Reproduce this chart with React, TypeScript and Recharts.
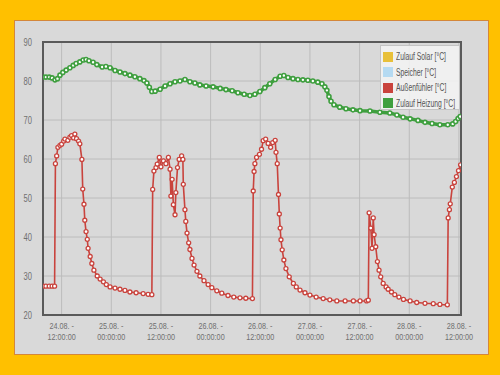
import React from 'react';
import { LineChart, Line, XAxis, YAxis, CartesianGrid, ReferenceArea, Legend } from 'recharts';

// hours since 24.08. 00:00:00
const redTimes = [
  7.5, 8.2, 9.0, 9.7, 10.3,
  10.5, 10.8, 11.1, 11.6, 12.0, 12.5, 12.8, 13.5, 14.0, 14.4, 14.9, 15.2, 15.6, 16.1, 16.4, 16.9,
  17.1, 17.4, 17.6, 17.9, 18.2, 18.4, 18.9, 19.3, 19.8, 20.6, 21.3, 22.1, 22.8, 23.7, 24.9, 26.1, 27.3, 28.5, 30.0, 31.7, 32.9, 33.8,
  34.0, 34.3, 34.8, 35.1, 35.6, 36.0, 36.6, 37.2, 37.8, 38.2, 38.4, 38.7, 39.0, 39.4, 39.6, 40.0, 40.4, 41.0, 41.3, 41.4,
  41.8, 42.0, 42.3, 42.7, 43.0, 43.5, 44.0, 44.7, 45.4, 46.4, 47.4, 48.3, 49.5, 50.7, 52.2, 53.6, 55.1, 56.5, 58.1,
  58.3, 58.5, 58.7, 59.1, 59.8, 60.3, 60.7, 61.3, 61.9, 62.5, 63.0, 63.6, 63.8, 64.1, 64.4, 64.6, 64.8, 65.0, 65.3, 65.7,
  66.2, 67.0, 68.0, 68.7, 69.6, 70.8, 72.0, 73.5, 75.2, 76.8, 78.5, 80.5, 82.5, 84.1, 85.7, 86.1,
  86.3, 86.7, 87.0, 87.3, 87.5, 87.9, 88.3, 88.7, 89.1, 89.7, 90.4, 90.9, 91.7, 92.5, 93.5, 94.6, 96.2, 97.8, 99.8, 101.8, 103.4, 105.2,
  105.4, 105.7, 105.9, 106.4, 106.9, 107.4, 107.9, 108.4,
];
const redValues = [
  27.4, 27.4, 27.4, 27.4, 27.4,
  58.8, 60.8, 63.0, 63.5, 63.8, 64.6, 65.1, 64.8, 65.6, 66.0, 65.4, 66.4, 65.2, 64.6, 63.9, 59.9,
  52.3, 48.4, 44.3, 41.4, 39.4, 37.1, 35.0, 33.2, 31.5, 30.0, 29.2, 28.5, 27.8, 27.2, 26.9, 26.6, 26.3, 25.9, 25.7, 25.5, 25.3, 25.2,
  52.2, 56.9, 57.8, 58.7, 60.4, 58.0, 59.5, 58.8, 60.4, 57.4, 50.5, 54.8, 48.3, 45.7, 51.4, 57.8, 59.9, 60.8, 59.9, 53.5,
  47.0, 44.0, 41.0, 38.5, 36.8, 34.5, 32.8, 31.2, 30.0, 28.8, 27.8, 27.0, 26.2, 25.6, 25.0, 24.6, 24.4, 24.3, 24.2,
  51.8, 56.8, 58.8, 60.4, 61.2, 62.5, 64.7, 65.1, 64.0, 63.0, 64.2, 64.8, 61.7, 58.8, 50.9, 45.9, 42.3, 39.3, 36.7, 34.1,
  31.9, 29.8, 28.1, 27.2, 26.4, 25.7, 25.1, 24.6, 24.2, 23.9, 23.6, 23.6, 23.6, 23.6, 23.6, 23.8,
  46.2, 42.3, 37.1, 44.9, 40.6, 37.5, 33.7, 31.5, 29.8, 28.1, 27.2, 26.6, 25.9, 25.2, 24.6, 24.0, 23.6, 23.2, 23.0, 22.9, 22.7, 22.6,
  44.9, 47.0, 48.5, 52.8, 54.0, 55.5, 57.0, 58.5,
];

const greenTimes = [
  7.5, 8.2, 9.0, 9.7, 10.4, 11.0, 11.6, 12.3, 13.1, 14.0, 14.8, 15.5, 16.4, 17.2, 17.9, 18.6, 19.6, 20.5, 21.8, 22.7,
  23.7, 24.9, 26.1, 27.3, 28.5, 29.7, 30.9, 31.9, 32.6, 33.2, 33.8, 34.6, 35.8, 37.0, 38.2, 39.4, 40.6, 41.8, 43.0, 44.2,
  45.4, 46.9, 48.6, 50.3, 51.7, 53.2, 54.6, 56.1, 57.5, 58.7, 59.9, 61.1, 62.3, 63.6, 64.8, 65.7, 66.7, 67.9, 69.1, 70.3,
  71.5, 72.7, 73.9, 74.9, 75.6, 76.1, 76.6, 77.1, 77.8, 79.2, 80.7, 82.4, 84.1, 86.5, 88.9, 91.3, 93.0, 94.5, 96.2, 98.1,
  99.8, 101.5, 103.4, 105.3, 106.5, 107.2, 107.8, 108.3,
];
const greenValues = [
  81.0, 81.0, 81.0, 80.8, 80.3, 80.6, 81.5, 82.2, 82.8, 83.4, 84.0, 84.5, 84.9, 85.4, 85.5, 85.2, 84.8, 84.2, 83.6, 83.7,
  83.4, 82.7, 82.3, 81.9, 81.5, 81.1, 80.6, 80.1, 79.5, 78.4, 77.3, 77.4, 77.9, 78.7, 79.3, 79.8, 80.0, 80.4, 79.8, 79.5,
  79.0, 78.7, 78.5, 78.1, 77.8, 77.5, 77.0, 76.6, 76.3, 76.6, 77.3, 78.3, 79.3, 80.4, 81.2, 81.4, 80.9, 80.6, 80.4, 80.3,
  80.2, 80.0, 79.7, 79.3, 78.5, 77.6, 76.0, 74.8, 73.9, 73.3, 72.9, 72.6, 72.4, 72.3, 72.0, 71.8, 71.3, 70.7, 70.3, 69.9,
  69.4, 69.1, 68.8, 68.8, 69.0, 69.6, 70.4, 70.9,
];

const xTicks = [12, 24, 36, 48, 60, 72, 84, 96, 108];
const xTickDates = ['24.08. -', '25.08. -', '25.08. -', '26.08. -', '26.08. -', '27.08. -', '27.08. -', '28.08. -', '28.08. -'];
const xTickTimes = ['12:00:00', '00:00:00', '12:00:00', '00:00:00', '12:00:00', '00:00:00', '12:00:00', '00:00:00', '12:00:00'];
const yTicks = [20, 30, 40, 50, 60, 70, 80, 90];

const seriesNames = ['Zulauf Solar [°C]', 'Speicher [°C]', 'Außenfühler [°C]', 'Zulauf Heizung [°C]'];
const seriesColors = ['#e8c03a', '#b5daf2', '#c9433d', '#3f9f3f'];

const FONT = "'Liberation Sans', Arial, sans-serif";
const NARROW = 0.76;
const LEGEND_NARROW = 0.68;

const redData = redTimes.map((t, i) => ({ t, v: redValues[i] }));
const greenData = greenTimes.map((t, i) => ({ t, v: greenValues[i] }));

const XTick = (props: any) => {
  const { x, y, payload } = props;
  const i = xTicks.indexOf(payload.value);
  return (
    <g transform={`translate(${x},${y}) scale(${NARROW},1)`}>
      <text x={0} y={0} textAnchor="middle" fontSize={9.5} fill="#707070" fontFamily={FONT}>
        <tspan x={0} dy={14}>{xTickDates[i]}</tspan>
        <tspan x={0} dy={11}>{xTickTimes[i]}</tspan>
      </text>
    </g>
  );
};

const YTick = (props: any) => {
  const { x, y, payload } = props;
  return (
    <g transform={`translate(${x},${y}) scale(${NARROW},1)`}>
      <text x={0} y={0} dy={3.5} textAnchor="end" fontSize={10} fill="#707070" fontFamily={FONT}>
        {payload.value}
      </text>
    </g>
  );
};

const renderLegend = () => (
  <div
    style={{
      width: 80,
      height: 65,
      background: 'rgba(242,242,242,0.9)',
      border: '1px solid #c4c4c4',
      boxSizing: 'border-box',
      padding: '3px 0 0 2px',
      fontFamily: FONT,
      fontSize: 10,
      color: '#555',
      overflow: 'hidden',
    }}
  >
    {seriesNames.map((n, i) => (
      <div key={n} style={{ display: 'flex', alignItems: 'center', height: 15.5, whiteSpace: 'nowrap' }}>
        <span
          style={{
            width: 10,
            height: 10,
            flexShrink: 0,
            background: seriesColors[i],
            marginRight: 3,
            display: 'inline-block',
          }}
        />
        <span style={{ display: 'inline-block', transform: `scaleX(${LEGEND_NARROW})`, transformOrigin: 'left center' }}>{n}</span>
      </div>
    ))}
  </div>
);

export default function App() {
  return (
    <div style={{ position: 'absolute', left: 0, top: 0, width: 500, height: 375, background: '#ffc000', overflow: 'hidden' }}>
      <div
        style={{
          position: 'absolute',
          left: 14,
          top: 20,
          width: 475,
          height: 335,
          boxSizing: 'border-box',
          background: '#d9d9d9',
          border: '1.5px solid #d4873a',
        }}
      />
      <div style={{ position: 'absolute', left: 0, top: 0 }}>
        <LineChart width={500} height={375} margin={{ top: 42, right: 39, left: 3, bottom: 20 }}>
          <CartesianGrid stroke="#bcbcbc" strokeWidth={1} />
          <XAxis
            type="number"
            dataKey="t"
            domain={[7.5, 108.5]}
            ticks={xTicks}
            allowDataOverflow
            height={40}
            tickSize={0}
            tickMargin={0}
            tick={<XTick />}
            axisLine={{ stroke: '#5a5a5a', strokeWidth: 2 }}
            interval={0}
          />
          <YAxis
            type="number"
            domain={[20, 90]}
            ticks={yTicks}
            width={40}
            tickSize={0}
            tickMargin={11}
            tick={<YTick />}
            axisLine={{ stroke: '#5a5a5a', strokeWidth: 2 }}
            interval={0}
          />
          <ReferenceArea x1={7.5} x2={108.5} y1={20} y2={90} fill="none" stroke="#5a5a5a" strokeWidth={2} />
          <Line
            data={redData}
            dataKey="v"
            name={seriesNames[2]}
            type="linear"
            stroke={seriesColors[2]}
            strokeWidth={1.6}
            dot={{ r: 2, fill: '#ffffff', stroke: seriesColors[2], strokeWidth: 1.3 }}
            isAnimationActive={false}
          />
          <Line
            data={greenData}
            dataKey="v"
            name={seriesNames[3]}
            type="linear"
            stroke={seriesColors[3]}
            strokeWidth={3.5}
            dot={{ r: 2, fill: '#ffffff', stroke: seriesColors[3], strokeWidth: 1.6 }}
            isAnimationActive={false}
          />
          <Legend
            layout="vertical"
            align="center"
            verticalAlign="middle"
            content={renderLegend}
            wrapperStyle={{ position: 'absolute', left: 380, top: 45, width: 80, height: 65 }}
          />
        </LineChart>
      </div>
    </div>
  );
}
